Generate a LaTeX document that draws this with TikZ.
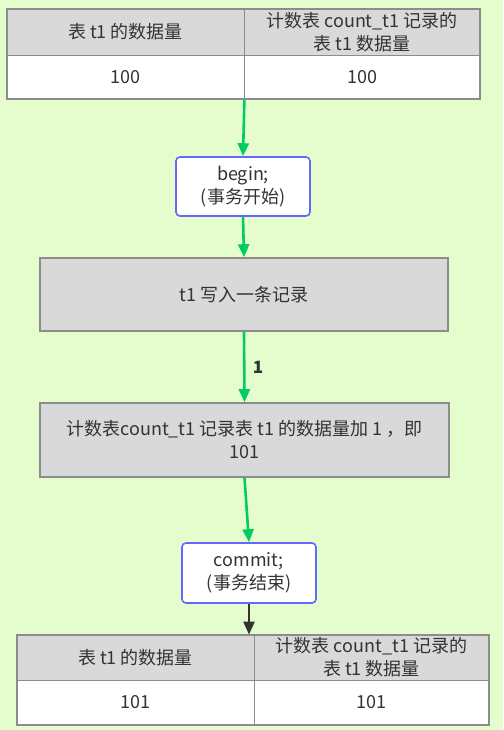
\documentclass[tikz,border=0pt]{standalone}
\usepackage{fontspec}
\setmainfont{Noto Sans CJK SC}
\usetikzlibrary{arrows.meta}
\definecolor{FlowBg}{RGB}{229,253,204}
\definecolor{FlowGreen}{RGB}{0,204,102}
\definecolor{FlowBlue}{RGB}{102,102,255}
\definecolor{FlowGrey}{RGB}{217,217,217}
\definecolor{FlowLine}{RGB}{140,140,140}
\definecolor{FlowText}{RGB}{51,51,51}

\begin{document}
\begin{tikzpicture}[x=1pt,y=-1pt,font=\fontsize{18}{23}\selectfont,text=FlowText,
  cell/.style n args={3}{draw=FlowLine,fill=#1,minimum width=#2pt,minimum height=#3pt,inner sep=0pt,align=center,line width=0.8pt},
  stepbox/.style n args={2}{draw=FlowLine,fill=FlowGrey,minimum width=#1pt,minimum height=#2pt,inner sep=0pt,align=center,line width=1.6pt},
  txbox/.style={draw=FlowBlue,fill=white,rounded corners=4pt,minimum width=134pt,minimum height=59pt,inner sep=0pt,align=center,line width=1.6pt},
  flow/.style={draw=#1,line width=2.6pt,-{Triangle[length=13pt,width=11pt]}},flow/.default=FlowGreen]
    \fill[FlowBg] (0,0) rectangle (503,730);
    \useasboundingbox (0,0) rectangle (503,730);
    % the two tables, before and after
    \foreach \tb/\x/\y/\wa/\wb/\ha/\hb/\val in %
    {top/7/9/237/236/46/44/100,bot/17/635/237/235/45/45/101} {
       \node[cell={FlowGrey}{\wa}{\ha}](\tb-h1) at(\x+\wa/2,\y+\ha/2) {表 t1 的数据量};
       \node[cell={FlowGrey}{\wb}{\ha}](\tb-h2) at(\x+\wa+\wb/2,\y+\ha/2) {计数表 count\_t1 记录的\\表 t1 数据量};
       \node[cell={white}{\wa}{\hb}](\tb-v1) at(\x+\wa/2,\y+\ha+\hb/2) {\val};
       \node[cell={white}{\wb}{\hb}](\tb-v2) at(\x+\wa+\wb/2,\y+\ha+\hb/2) {\val};
       \draw[FlowLine,line width=2pt] (\tb-h1.north west) rectangle (\tb-v2.south east);
    }
    \node[txbox](begin) at(243,186.5) {begin;\\(事务开始)};
    \node[stepbox={408}{73}](write) at(244,294.5) {t1 写入一条记录};
    \node[stepbox={409}{74}](count) at(244.5,440) {计数表count\_t1 记录表 t1 的数据量加 1 ，即\\101};
    \node[txbox,minimum height=60pt](commit) at(249,573) {commit;\\(事务结束)};
    \draw[flow] (top-v1.south east) -- (begin.north);
    \draw[flow] (begin.south) -- (write.north);
    \draw[flow] (write.south) -- node[right=4pt,font=\fontsize{17}{20}\selectfont\bfseries]{1} (count.north);
    \draw[flow] (count.south) -- (commit.north);
    \draw[flow=FlowText] (commit.south) -- (commit.south|-bot-h1.north);
\end{tikzpicture}
\end{document}
